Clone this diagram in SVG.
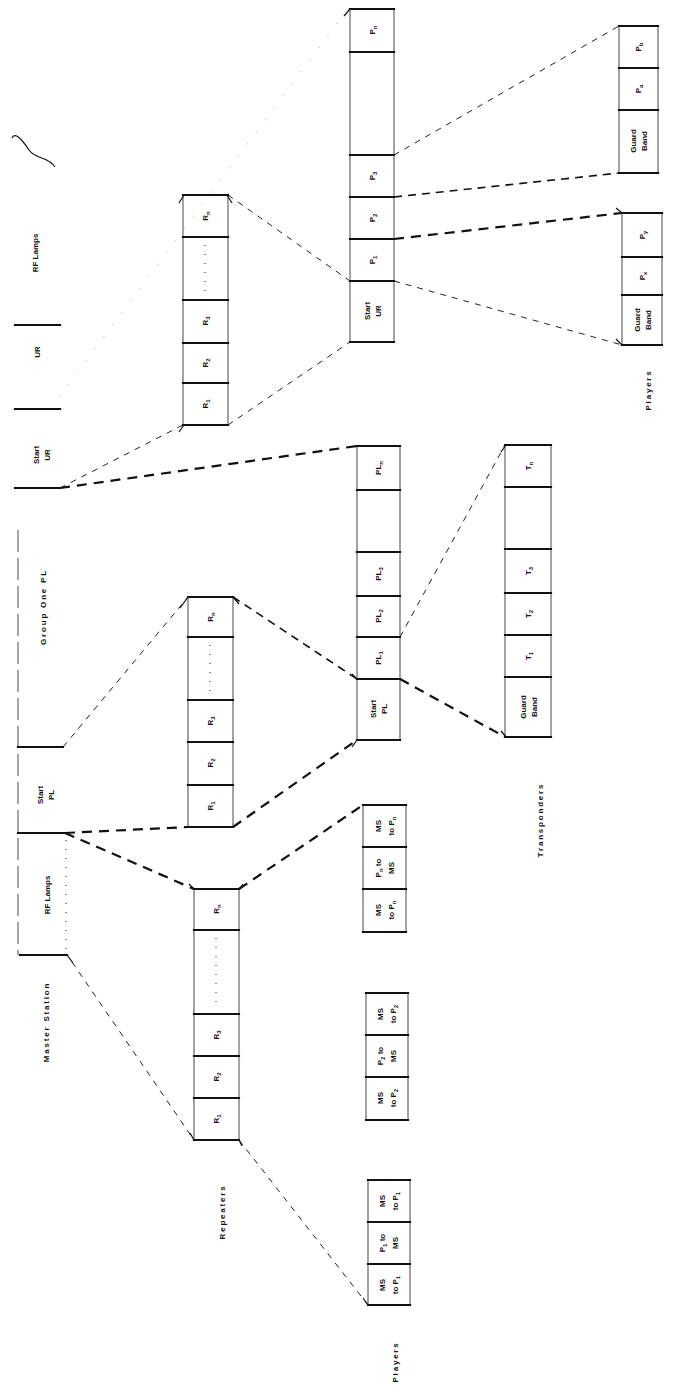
<svg xmlns="http://www.w3.org/2000/svg" width="673" height="1395" viewBox="0 0 673 1395">
<style>
.edge{fill:none;stroke:#333;stroke-width:0.9}
.bar{stroke:#111;stroke-width:2.2;stroke-linecap:square;fill:none}
.tick{stroke:#111;stroke-width:1.2;fill:none}
.lbl{font-family:"Liberation Sans",Arial,sans-serif;font-size:8px;font-weight:bold;fill:#111;text-anchor:middle}
.cap{font-family:"Liberation Sans",Arial,sans-serif;font-size:8px;font-weight:bold;fill:#111;text-anchor:middle;letter-spacing:1.8px}
.sub{font-size:6px}
.dots{stroke:#444;stroke-width:1.2;stroke-dasharray:1 8;fill:none}
.thin{stroke:#222;stroke-width:1;stroke-dasharray:6 6;fill:none}
.med{stroke:#111;stroke-width:1.6;stroke-dasharray:8 6;fill:none}
.thick{stroke:#111;stroke-width:2.2;stroke-dasharray:10 7;fill:none}
.faint{stroke:#999;stroke-width:1;stroke-dasharray:1 14;fill:none}
</style>

<g id="connectors">
  <line class="thin" x1="394" y1="155" x2="619" y2="26"/>
  <line class="med" x1="394" y1="197" x2="619" y2="173"/>
  <line class="thick" x1="394" y1="239" x2="622" y2="213"/>
  <line class="thin" x1="394" y1="281" x2="622" y2="345"/>
  <line class="thin" x1="228" y1="195" x2="350" y2="281"/>
  <line class="thin" x1="228" y1="425" x2="350" y2="342"/>
  <line class="thin" x1="60" y1="488" x2="183" y2="425"/>
  <line class="thick" x1="60" y1="488" x2="357" y2="446"/>
  <line class="faint" x1="50" y1="409" x2="344" y2="14"/>
  <line class="thin" x1="63" y1="747" x2="188" y2="597"/>
  <line class="med" x1="233" y1="597" x2="357" y2="679"/>
  <line class="thick" x1="65" y1="833" x2="188" y2="827"/>
  <line class="thick" x1="233" y1="827" x2="357" y2="740"/>
  <line class="thick" x1="65" y1="833" x2="194" y2="889"/>
  <line class="thick" x1="239" y1="889" x2="363" y2="805"/>
  <line class="thin" x1="72" y1="962" x2="194" y2="1140"/>
  <line class="thin" x1="239" y1="1140" x2="368" y2="1305"/>
  <line class="thin" x1="400" y1="637" x2="505" y2="445"/>
  <line class="thick" x1="400" y1="679" x2="505" y2="737"/>
</g>

<g id="master-station">
  <path class="tick" d="M12,138 C15,132 21,138 29,150 C36,160 48,156 55,167"/>
  <text class="lbl" transform="translate(35,253) rotate(-90)" dy="3">RF Lamps</text>
  <line class="bar" x1="15" y1="325" x2="60" y2="325"/>
  <text class="lbl" transform="translate(37,352) rotate(-90)" dy="3">UR</text>
  <line class="bar" x1="15" y1="409" x2="60" y2="409"/>
  <text class="lbl" transform="translate(36,455) rotate(-90)" dy="3">Start</text>
  <text class="lbl" transform="translate(47,455) rotate(-90)" dy="3">UR</text>
  <line class="bar" x1="15" y1="488" x2="60" y2="488"/>
  <line class="edge" x1="18" y1="530" x2="18" y2="955" stroke-dasharray="22 6"/>
  <text class="cap" transform="translate(43,607) rotate(-90)" dy="3">Group One PL</text>
  <line class="bar" x1="18" y1="747" x2="63" y2="747"/>
  <text class="lbl" transform="translate(40,795) rotate(-90)" dy="3">Start</text>
  <text class="lbl" transform="translate(51,795) rotate(-90)" dy="3">PL</text>
  <line class="bar" x1="18" y1="833" x2="65" y2="833"/>
  <line class="dots" x1="66" y1="840" x2="66" y2="950"/>
  <text class="lbl" transform="translate(47,895) rotate(-90)" dy="3">RF Lamps</text>
  <line class="bar" x1="20" y1="955" x2="67" y2="955"/>
  <line class="tick" x1="67" y1="955" x2="73" y2="963"/>
  <text class="cap" transform="translate(46,1022) rotate(-90)" dy="3">Master Station</text>
</g>

<g id="repeaters-ur">
  <rect class="edge" x="183" y="195" width="45" height="230"/>
  <path class="tick" d="M179,203 L184,195 M227,195 L232,203 M179,432 L184,425"/>
  <line class="bar" x1="183" y1="195" x2="228" y2="195"/>
  <line class="bar" x1="183" y1="237" x2="228" y2="237"/>
  <line class="bar" x1="183" y1="300" x2="228" y2="300"/>
  <line class="bar" x1="183" y1="343" x2="228" y2="343"/>
  <line class="bar" x1="183" y1="383" x2="228" y2="383"/>
  <line class="bar" x1="183" y1="425" x2="228" y2="425"/>
  <text class="lbl" transform="translate(205,216) rotate(-90)" dy="3">R<tspan class="sub" dy="2">n</tspan></text>
  <line class="dots" x1="205" y1="245" x2="205" y2="295"/>
  <text class="lbl" transform="translate(205,321) rotate(-90)" dy="3">R<tspan class="sub" dy="2">3</tspan></text>
  <text class="lbl" transform="translate(205,363) rotate(-90)" dy="3">R<tspan class="sub" dy="2">2</tspan></text>
  <text class="lbl" transform="translate(205,404) rotate(-90)" dy="3">R<tspan class="sub" dy="2">1</tspan></text>
</g>

<g id="repeaters-pl">
  <rect class="edge" x="188" y="597" width="45" height="230"/>
  <path class="tick" d="M180,608 L188,597 M233,597 L239,604"/>
  <line class="bar" x1="188" y1="597" x2="233" y2="597"/>
  <line class="bar" x1="188" y1="637" x2="233" y2="637"/>
  <line class="bar" x1="188" y1="700" x2="233" y2="700"/>
  <line class="bar" x1="188" y1="742" x2="233" y2="742"/>
  <line class="bar" x1="188" y1="785" x2="233" y2="785"/>
  <line class="bar" x1="188" y1="827" x2="233" y2="827"/>
  <text class="lbl" transform="translate(210,617) rotate(-90)" dy="3">R<tspan class="sub" dy="2">n</tspan></text>
  <line class="dots" x1="210" y1="645" x2="210" y2="695"/>
  <text class="lbl" transform="translate(210,721) rotate(-90)" dy="3">R<tspan class="sub" dy="2">3</tspan></text>
  <text class="lbl" transform="translate(210,763) rotate(-90)" dy="3">R<tspan class="sub" dy="2">2</tspan></text>
  <text class="lbl" transform="translate(210,806) rotate(-90)" dy="3">R<tspan class="sub" dy="2">1</tspan></text>
</g>

<g id="repeaters">
  <rect class="edge" x="194" y="889" width="45" height="251"/>
  <path class="tick" d="M189,884 L194,889 M239,889 L243,884 M190,1133 L194,1140 M239,1140 L242,1146"/>
  <line class="bar" x1="194" y1="889" x2="239" y2="889"/>
  <line class="bar" x1="194" y1="930" x2="239" y2="930"/>
  <line class="bar" x1="194" y1="1014" x2="239" y2="1014"/>
  <line class="bar" x1="194" y1="1056" x2="239" y2="1056"/>
  <line class="bar" x1="194" y1="1098" x2="239" y2="1098"/>
  <line class="bar" x1="194" y1="1140" x2="239" y2="1140"/>
  <text class="lbl" transform="translate(216,909) rotate(-90)" dy="3">R<tspan class="sub" dy="2">n</tspan></text>
  <line class="dots" x1="216" y1="938" x2="216" y2="1008"/>
  <text class="lbl" transform="translate(216,1035) rotate(-90)" dy="3">R<tspan class="sub" dy="2">3</tspan></text>
  <text class="lbl" transform="translate(216,1077) rotate(-90)" dy="3">R<tspan class="sub" dy="2">2</tspan></text>
  <text class="lbl" transform="translate(216,1119) rotate(-90)" dy="3">R<tspan class="sub" dy="2">1</tspan></text>
  <text class="cap" transform="translate(222,1212) rotate(-90)" dy="3">Repeaters</text>
</g>

<g id="ur-frame">
  <rect class="edge" x="350" y="9" width="44" height="333"/>
  <line class="tick" x1="344" y1="16" x2="350" y2="9"/>
  <line class="bar" x1="350" y1="9" x2="394" y2="9"/>
  <line class="bar" x1="350" y1="52" x2="394" y2="52"/>
  <line class="bar" x1="350" y1="155" x2="394" y2="155"/>
  <line class="bar" x1="350" y1="197" x2="394" y2="197"/>
  <line class="bar" x1="350" y1="239" x2="394" y2="239"/>
  <line class="bar" x1="350" y1="281" x2="394" y2="281"/>
  <line class="bar" x1="350" y1="342" x2="394" y2="342"/>
  <text class="lbl" transform="translate(372,30) rotate(-90)" dy="3">P<tspan class="sub" dy="2">n</tspan></text>
  <text class="lbl" transform="translate(372,176) rotate(-90)" dy="3">P<tspan class="sub" dy="2">3</tspan></text>
  <text class="lbl" transform="translate(372,218) rotate(-90)" dy="3">P<tspan class="sub" dy="2">2</tspan></text>
  <text class="lbl" transform="translate(372,260) rotate(-90)" dy="3">P<tspan class="sub" dy="2">1</tspan></text>
  <text class="lbl" transform="translate(367,311) rotate(-90)" dy="3">Start</text>
  <text class="lbl" transform="translate(378,311) rotate(-90)" dy="3">UR</text>
</g>

<g id="pl-frame">
  <rect class="edge" x="357" y="446" width="43" height="294"/>
  <path class="tick" d="M352,674 L357,679 M352,747 L357,740"/>
  <line class="bar" x1="357" y1="446" x2="400" y2="446"/>
  <line class="bar" x1="357" y1="490" x2="400" y2="490"/>
  <line class="bar" x1="357" y1="552" x2="400" y2="552"/>
  <line class="bar" x1="357" y1="596" x2="400" y2="596"/>
  <line class="bar" x1="357" y1="637" x2="400" y2="637"/>
  <line class="bar" x1="357" y1="679" x2="400" y2="679"/>
  <line class="bar" x1="357" y1="740" x2="400" y2="740"/>
  <text class="lbl" transform="translate(378,468) rotate(-90)" dy="3">PL<tspan class="sub" dy="2">n</tspan></text>
  <text class="lbl" transform="translate(378,574) rotate(-90)" dy="3">PL<tspan class="sub" dy="2">3</tspan></text>
  <text class="lbl" transform="translate(378,616) rotate(-90)" dy="3">PL<tspan class="sub" dy="2">2</tspan></text>
  <text class="lbl" transform="translate(378,658) rotate(-90)" dy="3">PL<tspan class="sub" dy="2">1</tspan></text>
  <text class="lbl" transform="translate(373,709) rotate(-90)" dy="3">Start</text>
  <text class="lbl" transform="translate(384,709) rotate(-90)" dy="3">PL</text>
</g>

<g id="transponders">
  <rect class="edge" x="505" y="445" width="46" height="292"/>
  <path class="tick" d="M501,452 L506,445 M501,731 L506,737"/>
  <line class="bar" x1="505" y1="445" x2="551" y2="445"/>
  <line class="bar" x1="505" y1="487" x2="551" y2="487"/>
  <line class="bar" x1="505" y1="549" x2="551" y2="549"/>
  <line class="bar" x1="505" y1="593" x2="551" y2="593"/>
  <line class="bar" x1="505" y1="635" x2="551" y2="635"/>
  <line class="bar" x1="505" y1="677" x2="551" y2="677"/>
  <line class="bar" x1="505" y1="737" x2="551" y2="737"/>
  <text class="lbl" transform="translate(528,466) rotate(-90)" dy="3">T<tspan class="sub" dy="2">n</tspan></text>
  <text class="lbl" transform="translate(528,571) rotate(-90)" dy="3">T<tspan class="sub" dy="2">3</tspan></text>
  <text class="lbl" transform="translate(528,614) rotate(-90)" dy="3">T<tspan class="sub" dy="2">2</tspan></text>
  <text class="lbl" transform="translate(528,656) rotate(-90)" dy="3">T<tspan class="sub" dy="2">1</tspan></text>
  <text class="lbl" transform="translate(523,707) rotate(-90)" dy="3">Guard</text>
  <text class="lbl" transform="translate(534,707) rotate(-90)" dy="3">Band</text>
  <text class="cap" transform="translate(540,820) rotate(-90)" dy="3">Transponders</text>
</g>

<g id="players-pn">
  <rect class="edge" x="363" y="805" width="43" height="127"/>
  <line class="bar" x1="363" y1="805" x2="406" y2="805"/>
  <line class="bar" x1="363" y1="847" x2="406" y2="847"/>
  <line class="bar" x1="363" y1="889" x2="406" y2="889"/>
  <line class="bar" x1="363" y1="932" x2="406" y2="932"/>
  <text class="lbl" transform="translate(378,826) rotate(-90)" dy="3">MS</text>
  <text class="lbl" transform="translate(391,826) rotate(-90)" dy="3">to P<tspan class="sub" dy="2">n</tspan></text>
  <text class="lbl" transform="translate(378,868) rotate(-90)" dy="3">P<tspan class="sub" dy="2">n</tspan><tspan dy="-2"> to</tspan></text>
  <text class="lbl" transform="translate(391,868) rotate(-90)" dy="3">MS</text>
  <text class="lbl" transform="translate(378,910) rotate(-90)" dy="3">MS</text>
  <text class="lbl" transform="translate(391,910) rotate(-90)" dy="3">to P<tspan class="sub" dy="2">n</tspan></text>
</g>

<g id="players-p2">
  <rect class="edge" x="366" y="993" width="42" height="127"/>
  <line class="bar" x1="366" y1="993" x2="408" y2="993"/>
  <line class="bar" x1="366" y1="1035" x2="408" y2="1035"/>
  <line class="bar" x1="366" y1="1077" x2="408" y2="1077"/>
  <line class="bar" x1="366" y1="1120" x2="408" y2="1120"/>
  <text class="lbl" transform="translate(380,1014) rotate(-90)" dy="3">MS</text>
  <text class="lbl" transform="translate(393,1014) rotate(-90)" dy="3">to P<tspan class="sub" dy="2">2</tspan></text>
  <text class="lbl" transform="translate(380,1056) rotate(-90)" dy="3">P<tspan class="sub" dy="2">2</tspan><tspan dy="-2"> to</tspan></text>
  <text class="lbl" transform="translate(393,1056) rotate(-90)" dy="3">MS</text>
  <text class="lbl" transform="translate(380,1098) rotate(-90)" dy="3">MS</text>
  <text class="lbl" transform="translate(393,1098) rotate(-90)" dy="3">to P<tspan class="sub" dy="2">2</tspan></text>
</g>

<g id="players-p1">
  <rect class="edge" x="368" y="1180" width="42" height="125"/>
  <line class="tick" x1="363" y1="1298" x2="368" y2="1305"/>
  <line class="bar" x1="368" y1="1180" x2="410" y2="1180"/>
  <line class="bar" x1="368" y1="1222" x2="410" y2="1222"/>
  <line class="bar" x1="368" y1="1264" x2="410" y2="1264"/>
  <line class="bar" x1="368" y1="1305" x2="410" y2="1305"/>
  <text class="lbl" transform="translate(382,1201) rotate(-90)" dy="3">MS</text>
  <text class="lbl" transform="translate(395,1201) rotate(-90)" dy="3">to P<tspan class="sub" dy="2">1</tspan></text>
  <text class="lbl" transform="translate(382,1243) rotate(-90)" dy="3">P<tspan class="sub" dy="2">1</tspan><tspan dy="-2"> to</tspan></text>
  <text class="lbl" transform="translate(395,1243) rotate(-90)" dy="3">MS</text>
  <text class="lbl" transform="translate(382,1285) rotate(-90)" dy="3">MS</text>
  <text class="lbl" transform="translate(395,1285) rotate(-90)" dy="3">to P<tspan class="sub" dy="2">1</tspan></text>
  <text class="cap" transform="translate(395,1362) rotate(-90)" dy="3">Players</text>
</g>

<g id="players-ab">
  <rect class="edge" x="619" y="26" width="39" height="147"/>
  <line class="bar" x1="619" y1="26" x2="658" y2="26"/>
  <line class="bar" x1="619" y1="68" x2="658" y2="68"/>
  <line class="bar" x1="619" y1="110" x2="658" y2="110"/>
  <line class="bar" x1="619" y1="173" x2="658" y2="173"/>
  <text class="lbl" transform="translate(638,47) rotate(-90)" dy="3">P<tspan class="sub" dy="2">b</tspan></text>
  <text class="lbl" transform="translate(638,89) rotate(-90)" dy="3">P<tspan class="sub" dy="2">a</tspan></text>
  <text class="lbl" transform="translate(633,141) rotate(-90)" dy="3">Guard</text>
  <text class="lbl" transform="translate(644,141) rotate(-90)" dy="3">Band</text>
</g>

<g id="players-xy">
  <rect class="edge" x="622" y="213" width="40" height="132"/>
  <path class="tick" d="M616,208 L622,213 M616,339 L622,345"/>
  <line class="bar" x1="622" y1="213" x2="662" y2="213"/>
  <line class="bar" x1="622" y1="257" x2="662" y2="257"/>
  <line class="bar" x1="622" y1="295" x2="662" y2="295"/>
  <line class="bar" x1="622" y1="345" x2="662" y2="345"/>
  <text class="lbl" transform="translate(642,235) rotate(-90)" dy="3">P<tspan class="sub" dy="2">y</tspan></text>
  <text class="lbl" transform="translate(642,276) rotate(-90)" dy="3">P<tspan class="sub" dy="2">x</tspan></text>
  <text class="lbl" transform="translate(637,320) rotate(-90)" dy="3">Guard</text>
  <text class="lbl" transform="translate(648,320) rotate(-90)" dy="3">Band</text>
  <text class="cap" transform="translate(648,390) rotate(-90)" dy="3">Players</text>
</g>
</svg>
